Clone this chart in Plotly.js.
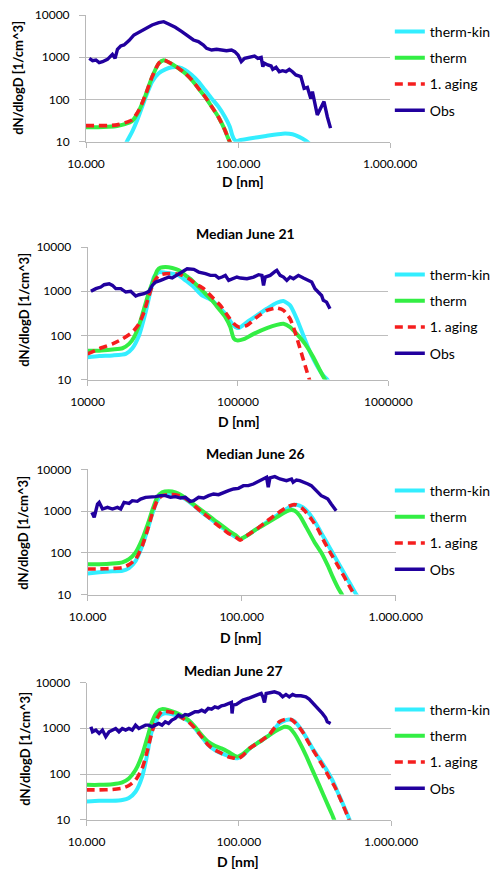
<!DOCTYPE html>
<html><head><meta charset="utf-8">
<script src="https://cdn.plot.ly/plotly-3.0.1.min.js"></script>
<style>html,body{margin:0;padding:0;background:#fff;}#chart{width:496px;height:871px;}</style>
</head><body><div id="chart"></div>
<script>
// ---------- DATA ----------
const seriesNames = ["therm-kin", "therm", "1. aging", "Obs"];
const panelTitles = ["", "Median June 21", "Median June 26", "Median June 27"];
const xTickVals = [10000, 100000, 1000000];
const xTickTextDot = ["10.000", "100.000", "1.000.000"];
const xTickTextPlain = ["10000", "100000", "1000000"];
const yTickVals = [10, 100, 1000, 10000];
const yTickText = ["10", "100", "1000", "10000"];
const xTitle = "D [nm]";
const yTitle = "dN/dlogD [1/cm^3]";

// Panel 1
const p1KinD = [18000, 18700, 20130, 21730, 23430, 25240, 27210, 30090, 33240, 36730, 40600, 44870, 49620, 54830, 60670, 66990, 74130, 81850, 88250, 91460, 94180, 98000, 102400, 119100, 152800, 196300, 228000, 252200, 278700, 300000];
const p1Kin = [8, 10.6, 17.3, 32.6, 68, 140, 264, 416, 517, 577, 577, 499, 379, 264, 167, 106, 68, 39, 22.7, 14.4, 11.5, 10.3, 10.8, 11.9, 13.7, 15.5, 15, 13, 10.6, 8.5];
const p1ThermD = [10000, 12000, 14000, 16000, 18000, 20130, 22280, 24610, 27210, 30090, 32430, 36730, 40600, 44870, 49620, 54830, 60670, 66990, 74130, 81850, 86170, 90000];
const p1Therm = [22, 22, 22.5, 23.5, 26, 31, 54, 125, 340, 710, 850, 692, 546, 416, 289, 184, 116, 68, 39, 19, 12, 8.5];
const p1AgingD = [10000, 12000, 14000, 16000, 18000, 20130, 22280, 24610, 27210, 30090, 32430, 36730, 40600, 44870, 49620, 54830, 60670, 66990, 74130, 81850, 86170, 90000];
const p1Aging = [24, 24, 24, 25, 28, 33, 56, 128, 347, 718, 860, 692, 546, 416, 289, 184, 116, 68, 39, 19, 12, 8.5];
const p1ObsD = [10510, 11050, 11620, 12210, 12840, 13840, 14920, 15530, 16100, 16920, 17780, 19180, 20670, 21730, 22850, 24610, 27210, 30090, 32430, 34940, 38630, 42690, 47180, 50880, 54830, 59140, 62120, 66990, 72240, 77840, 83950, 90540, 95120, 100000, 105000, 110400, 119100, 128300, 134900, 141900, 145500, 149200, 156800, 164900, 169100, 177800, 186600, 196300, 206500, 217300, 228000, 239900, 258800, 271800, 285700, 300600, 308300, 316200, 331900, 349100, 367300, 386400, 405500];
const p1Obs = [940, 830, 860, 745, 785, 890, 1170, 940, 1540, 1850, 1950, 2470, 3360, 3680, 4030, 4830, 5800, 6580, 6950, 6120, 5100, 4030, 3180, 2560, 2340, 1950, 1625, 1480, 1540, 1480, 1430, 1480, 1355, 1130, 785, 940, 995, 1070, 940, 995, 600, 720, 655, 620, 516, 577, 455, 480, 455, 516, 455, 380, 347, 184, 194, 106, 153, 97, 43, 62, 89, 39, 21];

// Panel 2
const p2KinD = [10000, 11950, 14640, 17950, 19860, 21980, 24340, 26270, 27640, 29830, 33030, 36560, 40460, 44790, 50850, 57740, 67270, 74470, 82440, 91260, 96020, 101100, 114800, 133700, 155600, 181200, 200800, 222200, 246000, 272300, 301400, 333700, 369400, 392600, 410000];
const p2Kin = [32, 34, 35, 38, 51, 99, 336, 1040, 2090, 2710, 2620, 2485, 2280, 1755, 1240, 802, 618, 436, 308, 183, 154, 146, 199, 282, 400, 547, 597, 476, 237, 99, 42, 21, 12.3, 10, 8];
const p2ThermD = [10000, 11950, 14640, 17050, 18880, 20370, 21980, 23730, 25610, 27640, 29080, 30600, 33030, 36560, 40460, 44790, 49580, 54880, 60760, 67270, 74470, 82440, 88960, 93610, 98500, 109100, 127100, 155600, 181200, 200800, 222200, 246000, 279300, 317100, 351300, 378800, 400000];
const p2Therm = [45, 45, 48, 51, 64, 91, 168, 400, 955, 1915, 2960, 3400, 3520, 3340, 2960, 2280, 1755, 1240, 875, 618, 400, 259, 154, 86, 77, 82, 108, 146, 173, 183, 154, 108, 64, 32, 16, 10, 7.5];
const p2AgingD = [10000, 11950, 14640, 17050, 19860, 21980, 23730, 25610, 27640, 29830, 33030, 38460, 42570, 47120, 52160, 59220, 67270, 76380, 86730, 93660, 101100, 114800, 133700, 155600, 181200, 200800, 222200, 239800, 258800, 279300, 298400, 310000];
const p2Aging = [38, 50, 64, 83, 118, 183, 336, 802, 1608, 2280, 2485, 2485, 2280, 1915, 1475, 1136, 735, 476, 259, 185, 154, 168, 259, 367, 414, 367, 237, 118, 50, 21, 10, 7];
const p2ObsD = [10520, 11350, 12250, 12890, 13920, 14640, 15400, 16630, 17950, 19360, 20900, 21980, 23730, 25610, 26920, 28350, 30600, 32200, 34760, 36560, 40460, 43650, 45940, 50850, 54880, 60760, 65590, 70800, 74470, 78340, 82440, 86730, 91260, 98400, 103700, 114800, 127100, 137100, 144300, 147900, 151700, 163700, 176700, 181200, 190800, 200800, 211200, 222200, 233800, 252300, 272300, 293800, 309200, 325300, 342200, 359800, 369400, 388600, 409000];
const p2Obs = [990, 1140, 1240, 1400, 1475, 1350, 1140, 1140, 955, 990, 775, 830, 875, 990, 1350, 1610, 1755, 1915, 2090, 1985, 2485, 2960, 3225, 3115, 2710, 2485, 2280, 2280, 1985, 2090, 2280, 1755, 1915, 2090, 1985, 1915, 2090, 2360, 2280, 1350, 2090, 2280, 2805, 2960, 2280, 2090, 1755, 2090, 1915, 2280, 1985, 1755, 1610, 1140, 955, 800, 620, 565, 400];

// Panel 3
const p3KinD = [10000, 11890, 14500, 16820, 18570, 20510, 22640, 24380, 26260, 28300, 30490, 33640, 37160, 41020, 45290, 50010, 55220, 60990, 67350, 74390, 82150, 90720, 97610, 107800, 125000, 145000, 168300, 195400, 210500, 226600, 250200, 276000, 304800, 336400, 371600, 410400, 452900, 500100, 552300, 580000];
const p3Kin = [32, 34, 36, 37, 43, 64, 147, 337, 847, 1770, 2465, 2560, 2465, 2130, 1706, 1270, 929, 705, 535, 406, 308, 242, 213, 256, 370, 535, 773, 1117, 1343, 1419, 1225, 847, 488, 256, 134, 70, 37, 19.4, 10.2, 8];
const p3ThermD = [10000, 11890, 14500, 16820, 18570, 20510, 22640, 24380, 26260, 28300, 30490, 33640, 37160, 41020, 45290, 50010, 55220, 60990, 67350, 74390, 82150, 90720, 97610, 107800, 125000, 145000, 168300, 195400, 210500, 221000, 238200, 262900, 297400, 328300, 362500, 390500, 420700, 448700, 470000];
const p3Therm = [53, 53, 55, 59, 70, 102, 213, 445, 1019, 2130, 2805, 2965, 2805, 2335, 1770, 1343, 1019, 773, 586, 445, 337, 270, 215, 256, 370, 506, 705, 982, 1057, 1019, 773, 406, 177, 102, 49, 26, 14.7, 9.8, 7];
const p3AgingD = [10000, 11890, 14500, 16820, 18570, 20510, 22640, 24380, 26260, 28300, 30490, 33640, 37160, 41020, 45290, 50010, 55220, 60990, 67350, 74390, 82150, 90720, 97610, 107800, 125000, 145000, 168300, 195400, 215800, 226600, 250200, 283000, 312400, 345100, 380900, 420700, 464500, 512800, 538800, 560000];
const p3Aging = [41, 41, 42, 44, 52, 70, 147, 337, 847, 1770, 2335, 2465, 2465, 2210, 1770, 1270, 929, 705, 506, 384, 291, 242, 201, 256, 370, 565, 847, 1225, 1419, 1393, 1117, 643, 370, 177, 93, 49, 26, 13.4, 9.8, 8];
const p3ObsD = [10660, 11040, 11600, 11890, 12500, 13460, 14500, 15610, 16410, 17240, 18570, 19510, 21020, 22080, 23780, 25620, 27600, 29740, 32000, 34490, 37160, 40030, 43090, 46420, 48780, 52540, 56610, 60990, 65700, 70780, 76260, 82150, 88500, 95300, 102600, 110400, 119000, 128200, 138100, 145000, 148700, 152400, 164100, 176900, 195400, 210500, 215800, 226600, 238200, 256500, 269300, 283000, 297400, 312400, 328300, 345100, 362500, 380900, 400000, 410400];
const p3Obs = [930, 705, 1470, 1615, 1117, 1225, 1117, 1225, 1117, 1615, 1530, 1770, 1706, 1940, 2130, 2130, 2210, 2335, 2335, 2130, 2210, 2050, 2130, 1706, 1770, 2130, 2050, 2335, 2560, 2465, 2805, 3075, 3375, 3500, 4055, 4055, 4445, 5150, 5865, 6430, 3700, 6200, 6670, 5865, 5350, 5865, 4875, 5550, 5350, 4875, 4445, 4055, 3375, 2805, 2335, 2130, 1940, 1470, 1117, 1019];

// Panel 4
const p4KinD = [10000, 12090, 14770, 17160, 18960, 20960, 23160, 24960, 26240, 27590, 29740, 32060, 34560, 38190, 42210, 46650, 51550, 56970, 62960, 69580, 76900, 84980, 93920, 98000, 106400, 117700, 136700, 158800, 184500, 203900, 214400, 231100, 249100, 275300, 304300, 336300, 371600, 410700, 453900, 501600, 540600, 560000];
const p4Kin = [25, 26, 26, 27, 30, 41, 87, 260, 653, 1172, 1782, 2105, 2105, 1938, 1695, 1434, 991, 653, 430, 334, 283, 251, 225, 222, 255, 363, 507, 709, 1275, 1508, 1560, 1434, 1078, 653, 363, 220, 133, 74, 35, 16.4, 9.1, 7.5];
const p4ThermD = [10000, 12090, 14770, 17160, 18960, 20960, 23160, 24960, 26910, 29010, 31270, 34560, 38190, 42210, 46650, 51550, 56970, 62960, 69580, 76900, 84980, 93920, 98000, 106400, 117700, 136700, 158800, 184500, 198900, 214400, 231100, 249100, 275300, 304300, 336300, 371600, 410700, 427400, 450000];
const p4Therm = [58, 58, 60, 66, 80, 122, 260, 600, 1386, 2290, 2620, 2490, 2215, 1874, 1508, 1078, 709, 507, 415, 363, 307, 251, 240, 275, 363, 507, 709, 959, 1078, 1026, 771, 507, 260, 122, 58, 27, 12.7, 9.1, 7];
const p4AgingD = [10000, 12090, 14770, 17160, 18960, 20960, 23160, 24960, 26910, 29010, 31270, 34560, 38190, 42210, 46650, 51550, 56970, 62960, 69580, 76900, 84980, 93920, 98000, 106400, 117700, 136700, 158800, 184500, 203900, 219800, 236900, 261800, 289400, 319900, 353500, 390600, 431600, 477100, 514300, 532600, 550000];
const p4Aging = [45, 45, 46, 49, 56, 74, 133, 307, 839, 1640, 2370, 2290, 2105, 1695, 1386, 991, 653, 430, 334, 283, 239, 220, 212, 255, 363, 507, 733, 1386, 1585, 1560, 1275, 839, 467, 269, 157, 87, 49, 23, 12.7, 9.1, 7];
const p4ObsD = [10670, 10940, 11500, 12090, 12710, 13360, 14050, 14770, 15520, 16320, 17160, 18040, 18960, 19940, 20960, 22030, 23160, 24350, 25600, 26910, 28290, 29740, 31270, 32870, 34560, 36330, 38190, 40150, 42210, 44370, 46650, 49040, 51550, 54190, 56970, 59890, 62960, 66190, 69580, 73150, 76900, 80840, 84980, 89340, 90240, 91620, 96310, 103800, 106400, 117700, 130000, 140200, 143700, 147300, 151100, 158800, 171200, 184500, 194000, 203900, 214400, 225400, 236900, 255400, 275300, 289400, 304300, 319900, 336300, 353500, 371600, 380900, 400500];
const p4Obs = [1078, 839, 912, 771, 912, 653, 839, 912, 991, 839, 991, 912, 991, 912, 1172, 991, 1078, 1172, 1172, 1078, 1172, 1275, 1172, 1386, 1275, 1508, 1640, 1938, 1782, 2005, 1938, 2105, 2290, 2290, 2490, 2290, 2710, 2620, 2945, 2800, 3100, 3200, 3480, 3660, 2105, 3200, 3310, 3790, 4120, 4630, 5300, 5755, 4870, 3660, 5755, 6050, 6250, 5755, 4870, 5475, 4870, 5475, 5120, 5120, 4870, 4330, 3660, 3100, 2490, 2105, 1695, 1386, 1275];

// ---------- STYLE / LAYOUT ----------
const FONT = "Lato, 'Liberation Sans', 'DejaVu Sans', sans-serif";
const W = 496, H = 871;
const colors = ["#33EEFF", "#33EE44", "#F51E1E", "#21009E"];
const widths = [4, 4, 3.6, 3.4];
const dashes = ["solid", "solid", "8px,5px", "solid"];

const panels = [
  {series: [[p1KinD, p1Kin], [p1ThermD, p1Therm], [p1AgingD, p1Aging], [p1ObsD, p1Obs]],
   xPix: [86.7, 393.3], yPix: [15, 141.7], tickText: xTickTextDot,
   titleXY: null, yTitleXY: [18, 78], xTitleXY: [245, 182], legTop: 16},
  {series: [[p2KinD, p2Kin], [p2ThermD, p2Therm], [p2AgingD, p2Aging], [p2ObsD, p2Obs]],
   xPix: [88.3, 391.5], yPix: [247, 379.5], tickText: xTickTextPlain,
   titleXY: [247, 233], yTitleXY: [24, 310], xTitleXY: [241, 421], legTop: 259},
  {series: [[p3KinD, p3Kin], [p3ThermD, p3Therm], [p3AgingD, p3Aging], [p3ObsD, p3Obs]],
   xPix: [88.3, 399], yPix: [469.3, 594.5], tickText: xTickTextDot,
   titleXY: [258, 453], yTitleXY: [23, 533], xTitleXY: [243, 637], legTop: 475},
  {series: [[p4KinD, p4Kin], [p4ThermD, p4Therm], [p4AgingD, p4Aging], [p4ObsD, p4Obs]],
   xPix: [87.3, 394.3], yPix: [682.5, 819.8], tickText: xTickTextDot,
   titleXY: [235, 670], yTitleXY: [25, 749], xTitleXY: [240, 861], legTop: 694}
];

const px = x => x / W;
const py = y => 1 - y / H;

const traces = [];
const layout = {
  width: W, height: H, margin: {l: 0, r: 0, t: 0, b: 0},
  paper_bgcolor: "#fff", plot_bgcolor: "#fff",
  font: {family: FONT, color: "#000", size: 12},
  showlegend: true, annotations: []
};

panels.forEach((p, i) => {
  const n = i + 1;
  const xa = n === 1 ? "x" : "x" + n;
  const ya = n === 1 ? "y" : "y" + n;
  const legKey = n === 1 ? "legend" : "legend" + n;
  p.series.forEach((s, k) => {
    traces.push({
      type: "scatter", mode: "lines", x: s[0], y: s[1], name: seriesNames[k],
      xaxis: xa, yaxis: ya, legend: legKey, legendgroup: "g" + n + "_" + k,
      line: {color: colors[k], width: widths[k], dash: dashes[k], shape: k === 3 ? "linear" : "spline", smoothing: 0.6},
      hoverinfo: "skip"
    });
  });
  layout[n === 1 ? "xaxis" : "xaxis" + n] = {
    type: "log", range: [4, 6], domain: [px(p.xPix[0]), px(p.xPix[1])], anchor: ya,
    tickmode: "array", tickvals: xTickVals, ticktext: p.tickText,
    showgrid: false, zeroline: false, showline: true, linecolor: "#B8B8B8", linewidth: 1,
    ticks: "outside", ticklen: 5, tickcolor: "#B8B8B8", tickwidth: 1,
    tickfont: {family: FONT, size: 12, color: "#000"}, ticklabelstandoff: 6, fixedrange: true
  };
  layout[n === 1 ? "yaxis" : "yaxis" + n] = {
    type: "log", range: [1, 4], domain: [py(p.yPix[1]), py(p.yPix[0])], anchor: xa,
    tickmode: "array", tickvals: yTickVals, ticktext: yTickText,
    showgrid: true, gridcolor: "#BEBEBE", gridwidth: 1, zeroline: false,
    showline: true, linecolor: "#B8B8B8", linewidth: 1,
    ticks: "outside", ticklen: 6, tickcolor: "#B8B8B8", tickwidth: 1,
    tickfont: {family: FONT, size: 12, color: "#000"}, ticklabelstandoff: 7, fixedrange: true
  };
  layout[legKey] = {
    x: px(393), y: py(p.legTop), xanchor: "left", yanchor: "top",
    bgcolor: "rgba(0,0,0,0)", borderwidth: 0, traceorder: "grouped",
    tracegroupgap: 5, itemwidth: 30,
    font: {family: FONT, size: 14, color: "#000"}
  };
  if (p.titleXY) {
    layout.annotations.push({text: "<b>" + panelTitles[i] + "</b>", xref: "paper", yref: "paper",
      x: px(p.titleXY[0]), y: py(p.titleXY[1]), xanchor: "center", yanchor: "middle",
      showarrow: false, font: {family: FONT, size: 14, color: "#000"}});
  }
  layout.annotations.push({text: "<b>" + yTitle + "</b>", xref: "paper", yref: "paper",
    x: px(p.yTitleXY[0]), y: py(p.yTitleXY[1]), xanchor: "center", yanchor: "middle", textangle: -90,
    showarrow: false, font: {family: FONT, size: 13, color: "#000"}});
  layout.annotations.push({text: "<b>" + xTitle + "</b>", xref: "paper", yref: "paper",
    x: px(p.xTitleXY[0]), y: py(p.xTitleXY[1]), xanchor: "center", yanchor: "middle",
    showarrow: false, font: {family: FONT, size: 14, color: "#000"}});
});

Plotly.newPlot("chart", traces, layout, {displayModeBar: false, staticPlot: true});
</script></body></html>
